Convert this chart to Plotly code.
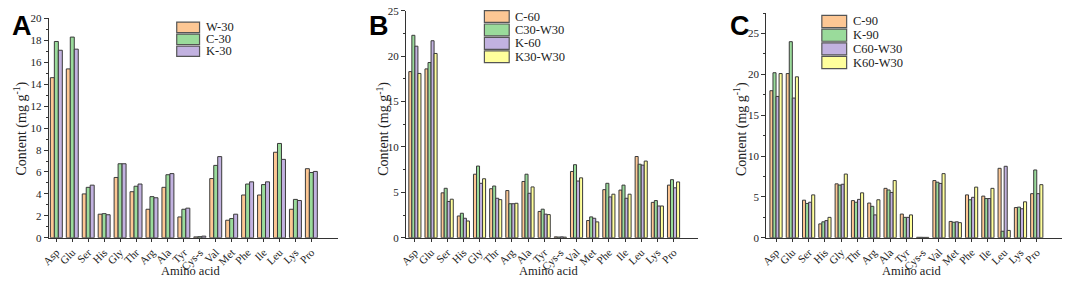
import plotly.graph_objects as go

W, H = 1065, 284

amino = ["Asp", "Glu", "Ser", "His", "Gly", "Thr", "Arg", "Ala", "Tyr", "Cys-s",
         "Val", "Met", "Phe", "Ile", "Leu", "Lys", "Pro"]

# Panel A
a_names = ["W-30", "C-30", "K-30"]
a_W30 = [14.6, 15.4, 4.0, 2.15, 5.5, 4.2, 2.6, 4.6, 1.9, 0.08, 5.4, 1.6, 3.9, 3.9, 7.8, 2.6, 6.3]
a_C30 = [17.9, 18.3, 4.6, 2.2, 6.75, 4.7, 3.75, 5.75, 2.6, 0.1, 6.6, 1.75, 4.9, 4.85, 8.6, 3.5, 5.95]
a_K30 = [17.1, 17.2, 4.8, 2.1, 6.75, 4.9, 3.65, 5.85, 2.7, 0.15, 7.4, 2.15, 5.1, 5.1, 7.15, 3.4, 6.05]

# Panel B
b_names = ["C-60", "C30-W30", "K-60", "K30-W30"]
b_C60 = [18.3, 18.6, 4.95, 2.4, 7.0, 5.4, 5.2, 6.2, 2.9, 0.1, 7.3, 1.9, 5.3, 5.25, 8.95, 3.9, 5.8]
b_C30W30 = [22.3, 19.3, 5.45, 2.7, 7.9, 5.7, 3.75, 7.0, 3.15, 0.08, 8.05, 2.3, 6.0, 5.8, 8.1, 4.1, 6.4]
b_K60 = [21.1, 21.7, 4.0, 2.15, 6.0, 4.35, 3.75, 4.9, 2.6, 0.1, 6.25, 2.15, 4.5, 4.35, 8.0, 3.5, 5.5]
b_K30W30 = [18.1, 20.3, 4.25, 1.85, 6.5, 4.2, 3.8, 5.6, 2.55, 0.07, 6.6, 1.75, 4.8, 4.8, 8.45, 3.5, 6.15]

# Panel C
c_names = ["C-90", "K-90", "C60-W30", "K60-W30"]
c_C90 = [18.0, 20.1, 4.6, 1.7, 6.6, 4.55, 4.25, 6.05, 2.9, 0.06, 7.0, 2.0, 5.25, 5.1, 8.5, 3.7, 5.4]
c_K90 = [20.2, 24.0, 4.2, 1.95, 6.45, 4.35, 3.85, 5.85, 2.5, 0.06, 6.8, 1.9, 4.65, 4.8, 0.8, 3.75, 8.3]
c_C60W30 = [17.3, 17.1, 4.35, 2.1, 6.55, 4.7, 2.8, 5.55, 2.5, 0.05, 6.65, 1.95, 4.95, 4.8, 8.75, 3.55, 5.4]
c_K60W30 = [20.1, 19.7, 5.25, 2.5, 7.8, 5.5, 4.65, 7.0, 2.8, 0.05, 7.85, 1.85, 6.2, 6.05, 0.9, 4.4, 6.5]

ORANGE = "#FDC794"
GREEN = "#9ADB9B"
PURPLE = "#C2B2E0"
YELLOW = "#FFFF9C"
EDGE = "#3a3a3a"

panels = [
    dict(letter="A", names=a_names, data=[a_W30, a_C30, a_K30], colors=[ORANGE, GREEN, PURPLE],
         px=(41, 332), top=13, yr=[0, 20], dt=2, minor=1, xr=[-0.48, 17.64],
         leg=(170, 16, 23, 12.5), ytx=13),
    dict(letter="B", names=b_names, data=[b_C60, b_C30W30, b_K60, b_K30W30],
         colors=[ORANGE, GREEN, PURPLE, YELLOW],
         px=(401, 695), top=5, yr=[0, 25], dt=5, minor=2.5, xr=[-0.55, 17.5],
         leg=(480, 4, 25, 14), ytx=378),
    dict(letter="C", names=c_names, data=[c_C90, c_K90, c_C60W30, c_K60W30],
         colors=[ORANGE, GREEN, PURPLE, YELLOW],
         px=(764, 1062), top=7.4, yr=[0, 27.5], dt=5, minor=2.5, xr=[-0.6, 17.55],
         leg=(820, 9, 25, 14.3), ytx=738),
]

def fx(p):
    return p / W

def fy(p):
    return 1 - p / H

fig = go.Figure()
shapes = []
annotations = []
y0px = 242
font_serif = "Liberation Serif, Times New Roman, serif"

for i, pn in enumerate(panels):
    k = "" if i == 0 else str(i + 1)
    xa, ya = "x" + k, "y" + k
    for name, vals, col in zip(pn["names"], pn["data"], pn["colors"]):
        fig.add_trace(go.Bar(x=amino, y=vals, name=name, xaxis=xa, yaxis=ya,
                             marker=dict(color=col, line=dict(color=EDGE, width=1)),
                             showlegend=False))
    axis_common = dict(showline=True, linecolor="#333", linewidth=1, ticks="outside",
                       tickcolor="#333", showgrid=False, zeroline=False)
    fig.layout["xaxis" + k] = dict(domain=[fx(pn["px"][0]), fx(pn["px"][1])], anchor=ya,
                                   range=pn["xr"], tickangle=-45, ticklen=3,
                                   type="category",
                                   tickfont=dict(family=font_serif, size=11, color="#222"),
                                   **axis_common)
    fig.layout["yaxis" + k] = dict(domain=[fy(y0px), fy(pn["top"])], anchor=xa,
                                   range=pn["yr"], dtick=pn["dt"], ticklen=4,
                                   tickfont=dict(family=font_serif, size=11, color="#222"),
                                   minor=dict(dtick=pn["minor"], ticks="outside", ticklen=2,
                                              tickcolor="#333"),
                                   **axis_common)
    # panel letter
    annotations.append(dict(text="<b>%s</b>" % pn["letter"], xref="paper", yref="paper",
                            x=fx(pn["px"][0] - 39), y=fy(3), xanchor="left", yanchor="top",
                            showarrow=False,
                            font=dict(family="Liberation Sans, Arial", size=27, color="#000")))
    # y title
    annotations.append(dict(text="Content (mg g<sup>-1</sup>)", xref="paper", yref="paper",
                            x=fx(pn["ytx"]), y=fy(128), textangle=-90, showarrow=False,
                            xanchor="center", yanchor="middle",
                            font=dict(family=font_serif, size=14, color="#222")))
    # x title
    annotations.append(dict(text="Amino acid", xref="paper", yref="paper",
                            x=fx((pn["px"][0] + pn["px"][1]) / 2 - 3), y=fy(277),
                            showarrow=False, xanchor="center", yanchor="middle",
                            font=dict(family=font_serif, size=12.5, color="#222")))
    # manual legend
    lx, ly, sw, sh = pn["leg"]
    for j, (name, col) in enumerate(zip(pn["names"], pn["colors"])):
        t = ly + j * sh
        shapes.append(dict(type="rect", xref="paper", yref="paper",
                           x0=fx(lx), x1=fx(lx + sw), y0=fy(t + 0.8), y1=fy(t + sh - 0.8),
                           fillcolor=col, line=dict(color="#555", width=1.2)))
        annotations.append(dict(text=name, xref="paper", yref="paper",
                                x=fx(lx + sw + 4), y=fy(t + sh / 2), xanchor="left",
                                yanchor="middle", showarrow=False,
                                font=dict(family=font_serif, size=12.5, color="#222")))

fig.update_layout(width=W, height=H, margin=dict(l=0, r=0, t=0, b=0),
                  paper_bgcolor="white", plot_bgcolor="white",
                  barmode="group", bargap=0.25, bargroupgap=0,
                  shapes=shapes, annotations=annotations, showlegend=False)

fig.write_html("out.html", config={"displayModeBar": False},
               post_script="document.body.style.margin='0';document.body.style.padding='0';"
                           "document.body.style.overflow='hidden';")
